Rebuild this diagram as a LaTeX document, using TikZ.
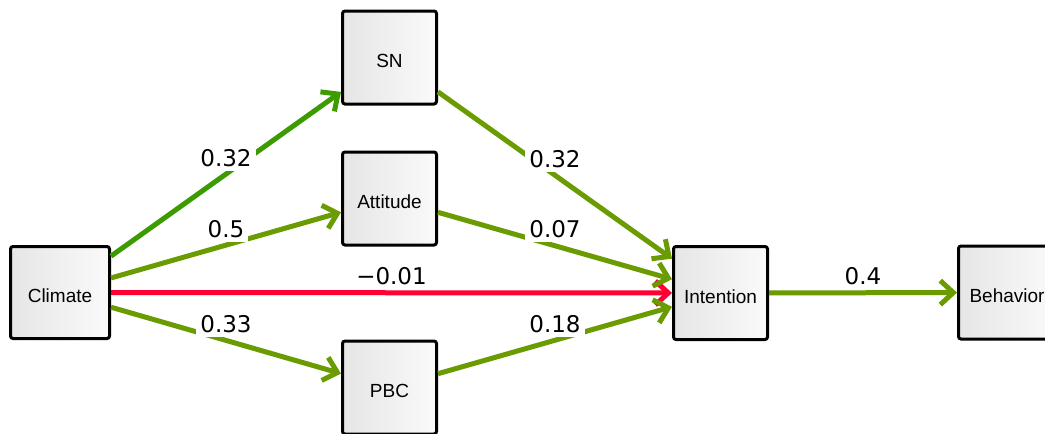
\documentclass[tikz,border=0pt]{standalone}
\usepackage{fontspec}
\setmainfont{Liberation Sans}
\newfontfamily\lblfont{DejaVu Sans}
\usetikzlibrary{arrows.meta}
\definecolor{edgegreen}{RGB}{60,155,0}
\definecolor{edgeolive}{RGB}{106,155,0}
\definecolor{edgered}{RGB}{255,0,51}
\begin{document}
\begin{tikzpicture}[x=1pt,y=-1pt,
  box/.style={draw=black, line width=3pt, rounded corners=2.5pt,
    minimum width=94pt, minimum height=93pt, inner sep=0pt,
    text height=20pt, text depth=0pt,
    left color=black!10, right color=black!2,
    font=\fontsize{19}{22}\selectfont},
  conn/.style={line width=5pt, -{Straight Barb[length=13pt,width=24pt]}},
  lbl/.style={midway, above=1pt, fill=white, inner sep=4pt, text=black,
    font=\lblfont\fontsize{23}{26}\selectfont}]
\useasboundingbox (0,0) rectangle (1045,434);
\node[box, minimum width=99pt, minimum height=92pt] (climate) at (60,292.5) {Climate};
\node[box] (sn) at (389.5,57.5) {SN};
\node[box] (att) at (389.5,198.5) {Attitude};
\node[box] (pbc) at (389.5,387.5) {PBC};
\node[box] (int) at (720.5,293) {Intention};
\node[box, minimum width=97pt] (beh) at (1007,292.5) {Behavior};
\draw[conn, edgegreen] (climate) -- (sn) node[lbl] {0.32};
\draw[conn, edgeolive] (climate) -- (att) node[lbl] {0.5};
\draw[conn, edgered] (climate) -- (int) node[lbl] {−0.01};
\draw[conn, edgeolive] (climate) -- (pbc) node[lbl] {0.33};
\draw[conn, edgeolive] (sn) -- (int) node[lbl] {0.32};
\draw[conn, edgeolive] (att) -- (int) node[lbl] {0.07};
\draw[conn, edgeolive] (pbc) -- (int) node[lbl] {0.18};
\draw[conn, edgeolive] (int) -- (beh) node[lbl] {0.4};
\end{tikzpicture}
\end{document}
